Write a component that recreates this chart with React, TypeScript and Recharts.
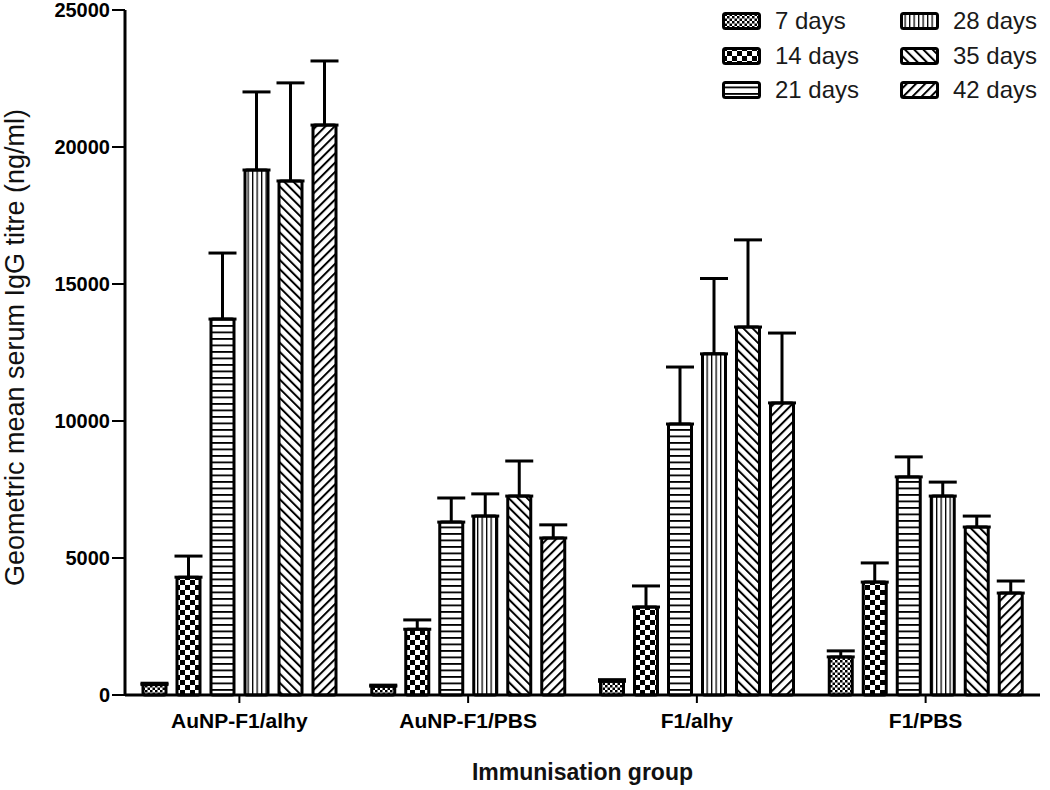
import { BarChart, Bar, XAxis, YAxis, ErrorBar, Legend } from "recharts";

const categories = ["AuNP-F1/alhy", "AuNP-F1/PBS", "F1/alhy", "F1/PBS"];
const seriesNames = ["7 days", "14 days", "21 days", "28 days", "35 days", "42 days"];

// geometric means (ng/ml), one array per time point
const d7 = [380, 320, 500, 1390];
const d14 = [4300, 2400, 3210, 4120];
const d21 = [13720, 6310, 9890, 7960];
const d28 = [19160, 6530, 12450, 7260];
const d35 = [18760, 7260, 13430, 6130];
const d42 = [20800, 5730, 10660, 3720];

// upper error (SEM) above each bar
const e7 = [50, 40, 60, 220];
const e14 = [770, 340, 770, 700];
const e21 = [2410, 880, 2080, 730];
const e28 = [2850, 810, 2750, 510];
const e35 = [3580, 1280, 3180, 400];
const e42 = [2340, 480, 2550, 440];

const yTicks = [0, 5000, 10000, 15000, 20000, 25000];

const keys = ["d7", "d14", "d21", "d28", "d35", "d42"];
const patternIds = ["p7", "p14", "p21", "p28", "p35", "p42"];

const data = categories.map((name, i) => ({
  name,
  d7: d7[i],
  d14: d14[i],
  d21: d21[i],
  d28: d28[i],
  d35: d35[i],
  d42: d42[i],
  d7e: [0, e7[i]],
  d14e: [0, e14[i]],
  d21e: [0, e21[i]],
  d28e: [0, e28[i]],
  d35e: [0, e35[i]],
  d42e: [0, e42[i]],
}));

function LegendBox() {
  return (
    <div
      style={{
        display: "grid",
        gridTemplateColumns: "178px 150px",
        gridTemplateRows: "repeat(3, 34.5px)",
        gridAutoFlow: "column",
      }}
    >
      {seriesNames.map((n, i) => (
        <div key={n} style={{ display: "flex", alignItems: "center" }}>
          <svg width={40} height={20}>
            <rect
              x={1.5}
              y={2.5}
              width={36}
              height={15}
              rx={2}
              fill={`url(#${patternIds[i]})`}
              stroke="#000"
              strokeWidth={3}
            />
          </svg>
          <span style={{ marginLeft: 13, fontSize: 24, color: "#1a1a1a", lineHeight: 1 }}>
            {n}
          </span>
        </div>
      ))}
    </div>
  );
}

export default function App() {
  return (
    <div
      style={{
        position: "absolute",
        left: 0,
        top: 0,
        width: 1050,
        height: 790,
        background: "#fff",
        fontFamily: '"Liberation Sans", Arial, sans-serif',
      }}
    >
      <BarChart
        width={1050}
        height={790}
        data={data}
        margin={{ top: 10, right: 10, left: 0, bottom: 0 }}
        barCategoryGap={18}
        barGap={11}
      >
        <defs>
          <pattern id="p7" width="5" height="5" patternUnits="userSpaceOnUse">
            <rect width="5" height="5" fill="#fff" />
            <rect width="2.5" height="2.5" fill="#000" />
            <rect x="2.5" y="2.5" width="2.5" height="2.5" fill="#000" />
          </pattern>
          <pattern id="p14" width="10" height="10" patternUnits="userSpaceOnUse">
            <rect width="10" height="10" fill="#fff" />
            <rect width="5" height="5" fill="#000" />
            <rect x="5" y="5" width="5" height="5" fill="#000" />
          </pattern>
          <pattern id="p21" width="8" height="6.5" patternUnits="userSpaceOnUse">
            <rect width="8" height="6.5" fill="#fff" />
            <rect y="0" width="8" height="1.8" fill="#000" />
          </pattern>
          <pattern id="p28" width="4.5" height="8" patternUnits="userSpaceOnUse">
            <rect width="4.5" height="8" fill="#fff" />
            <rect x="0" width="1.3" height="8" fill="#000" />
          </pattern>
          <pattern
            id="p35"
            width="6.5"
            height="8"
            patternUnits="userSpaceOnUse"
            patternTransform="rotate(-45)"
          >
            <rect width="6.5" height="8" fill="#fff" />
            <rect x="0" width="2" height="8" fill="#000" />
          </pattern>
          <pattern
            id="p42"
            width="6.5"
            height="8"
            patternUnits="userSpaceOnUse"
            patternTransform="rotate(45)"
          >
            <rect width="6.5" height="8" fill="#fff" />
            <rect x="0" width="2" height="8" fill="#000" />
          </pattern>
        </defs>
        <XAxis
          dataKey="name"
          interval={0}
          height={95}
          tickSize={8}
          tickMargin={10}
          axisLine={{ stroke: "#000", strokeWidth: 3 }}
          tickLine={{ stroke: "#000", strokeWidth: 2 }}
          tick={{ fill: "#000", fontSize: 21, fontWeight: "bold" }}
          label={{
            content: (p: any) => {
              const vb = p.viewBox;
              return (
                <text
                  x={vb.x + vb.width / 2}
                  y={vb.y + vb.height - 10}
                  textAnchor="middle"
                  fontSize={23}
                  fontWeight="bold"
                  fill="#111"
                >
                  Immunisation group
                </text>
              );
            },
          }}
        />
        <YAxis
          width={125}
          domain={[0, 25000]}
          ticks={yTicks}
          interval={0}
          tickSize={13}
          tickMargin={2}
          axisLine={{ stroke: "#000", strokeWidth: 3 }}
          tickLine={{ stroke: "#000", strokeWidth: 2 }}
          tick={{ fill: "#000", fontSize: 20, fontWeight: "bold" }}
          label={{
            content: (p: any) => {
              const vb = p.viewBox;
              const x = vb.x + 15;
              const y = vb.y + vb.height / 2 - 5;
              return (
                <text
                  transform={`translate(${x},${y}) rotate(-90)`}
                  textAnchor="middle"
                  dominantBaseline="central"
                  fontSize={27}
                  fill="#111"
                >
                  Geometric mean serum IgG titre (ng/ml)
                </text>
              );
            },
          }}
        />
        <Legend
          layout="horizontal"
          verticalAlign="middle"
          align="center"
          wrapperStyle={{ top: 4, left: 722, width: 330 }}
          content={() => <LegendBox />}
        />
        {keys.map((k, i) => (
          <Bar
            key={k}
            dataKey={k}
            name={seriesNames[i]}
            fill={`url(#${patternIds[i]})`}
            stroke="#000"
            strokeWidth={3}
            radius={2}
            isAnimationActive={false}
          >
            <ErrorBar
              dataKey={`${k}e`}
              direction="y"
              width={14}
              stroke="#000"
              strokeWidth={3}
              isAnimationActive={false}
            />
          </Bar>
        ))}
      </BarChart>
    </div>
  );
}
